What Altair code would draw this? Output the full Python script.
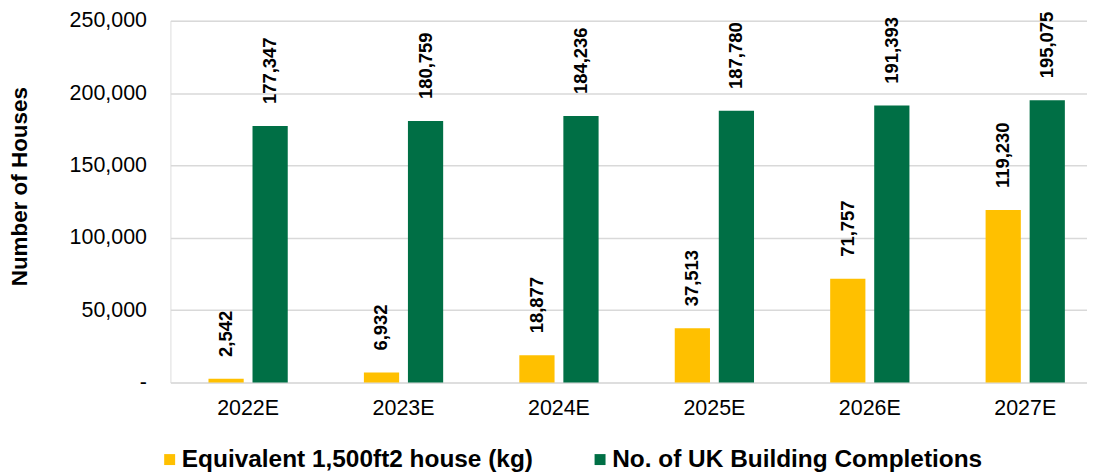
import altair as alt
import pandas as pd

years = ["2022E", "2023E", "2024E", "2025E", "2026E", "2027E"]
equivalent_house = [2542, 6932, 18877, 37513, 71757, 119230]
uk_completions = [177347, 180759, 184236, 187780, 191393, 195075]
series_names = ["Equivalent 1,500ft2 house (kg)", "No. of UK Building Completions"]
series_colors = ["#FFC000", "#006F45"]
y_ticks = [0, 50000, 100000, 150000, 200000, 250000]

rows = []
for i, y in enumerate(years):
    rows.append({"Year": y, "Series": series_names[0], "Value": equivalent_house[i], "order": 0})
    rows.append({"Year": y, "Series": series_names[1], "Value": uk_completions[i], "order": 1})
df = pd.DataFrame(rows)

FONT = "Liberation Sans"

x_enc = alt.X("Year:N", sort=years,
              scale=alt.Scale(paddingInner=0.49, paddingOuter=0.245, range=[0, 936]),
              axis=alt.Axis(title=None, labelAngle=0, labelFontSize=21.5, labelFont=FONT,
                            labelColor="#000000", labelPadding=15, ticks=False, domain=False))
xo_enc = alt.XOffset("Series:N", sort=series_names,
                     scale=alt.Scale(paddingInner=0.2, paddingOuter=0))
y_enc = alt.Y("Value:Q",
              scale=alt.Scale(domain=[0, 250000], nice=False),
              axis=alt.Axis(title="Number of Houses", values=y_ticks,
                            labelExpr="datum.value == 0 ? '-\u00a0\u00a0' : format(datum.value, ',')",
                            labelFontSize=21.5, labelFont=FONT, labelColor="#000000",
                            labelPadding=24, ticks=False, domain=False,
                            gridColor="#D9D9D9", gridWidth=1.5,
                            titleFont=FONT, titleFontSize=22.5, titleFontWeight="bold",
                            titleColor="#000000", titleAngle=270,
                            titleX=-151, titleY=166, titleAlign="center",
                            titleBaseline="middle"))
color_enc = alt.Color("Series:N", sort=series_names,
                      scale=alt.Scale(domain=series_names, range=series_colors),
                      legend=alt.Legend(title=None, orient="none", direction="horizontal",
                                        legendX=-13, legendY=428,
                                        symbolType="square", symbolSize=121,
                                        symbolStrokeWidth=0, symbolOpacity=1,
                                        labelFont=FONT, labelFontSize=24.5,
                                        labelFontWeight="bold", labelColor="#000000",
                                        labelOffset=0, columnPadding=54,
                                        labelLimit=600))

base = alt.Chart(df).encode(x=x_enc, xOffset=xo_enc)

bars = base.mark_bar(stroke=None).encode(y=y_enc, color=color_enc)

labels = base.mark_text(angle=270, align="left", baseline="middle", dx=22,
                        font=FONT, fontSize=18.5, fontWeight="bold",
                        color="#000000").encode(
    y=alt.Y("Value:Q"),
    text=alt.Text("Value:Q", format=","))

chart = (bars + labels).properties(
    width=920, height=363,
    autosize=alt.AutoSizeParams(type="none"),
    padding={"left": 163, "top": 12, "right": 0, "bottom": 93},
).configure_view(stroke=None).configure(background="#FFFFFF")

chart.save("out.html", embed_options={"renderer": "svg", "actions": False})
